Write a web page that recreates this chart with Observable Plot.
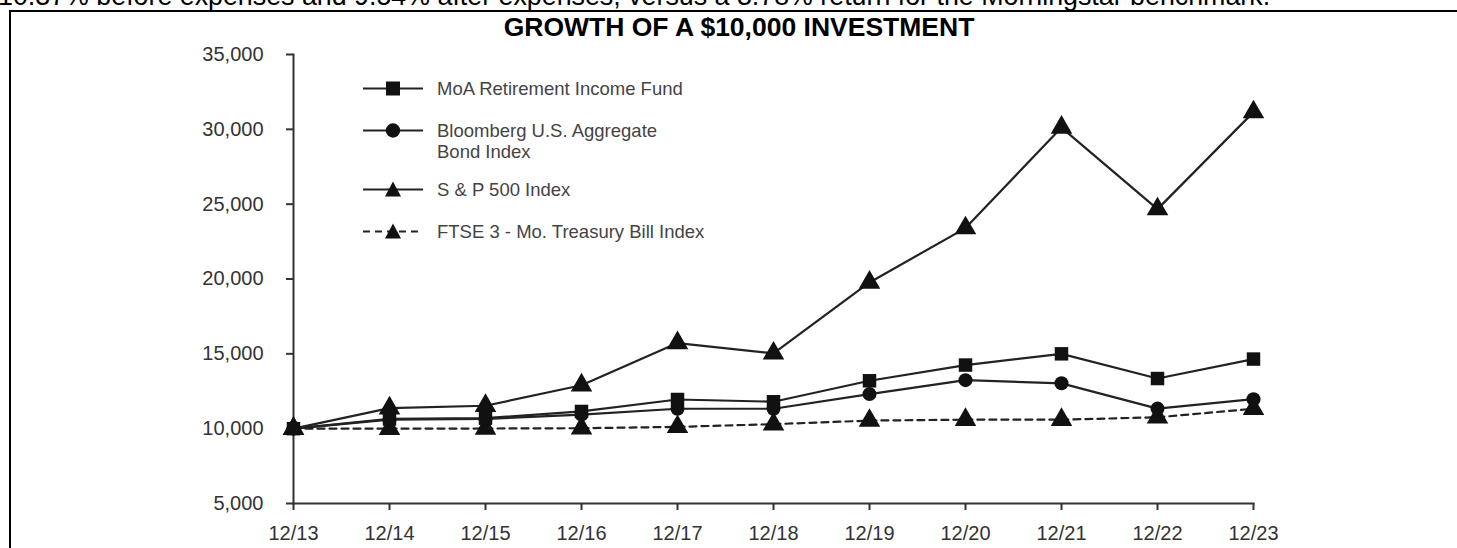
<!DOCTYPE html>
<html>
<head>
<meta charset="utf-8">
<script src="https://cdn.jsdelivr.net/npm/d3@7"></script>
<script src="https://cdn.jsdelivr.net/npm/@observablehq/plot@0.6"></script>
<style>
  html, body { margin: 0; padding: 0; background: #fff; }
  body { width: 1457px; height: 548px; overflow: hidden; position: relative; font-family: "Liberation Sans", Arial, sans-serif; }
  #topline { position: absolute; left: -2px; top: -19px; font-size: 26.8px; line-height: normal; color: #000; white-space: nowrap; }
  #frame { position: absolute; left: 9px; top: 10px; width: 1460px; height: 560px; border-top: 2.5px solid #000; border-left: 2px solid #000; }
  #title { position: absolute; left: 0; width: 1478px; text-align: center; top: 12px; font-size: 26.5px; line-height: normal; font-weight: bold; color: #000; }
  #chart { position: absolute; left: 0; top: 0; }
  #legend { position: absolute; left: 360px; top: 0; font-size: 18.5px; color: #444; }
  .item { position: absolute; left: 0; white-space: nowrap; }
  .item svg { position: absolute; left: 0; top: 0; }
  .item span { position: absolute; left: 77px; line-height: 21px; }
</style>
</head>
<body>
<div id="topline">10.37% before expenses and 9.54% after expenses, versus a 3.78% return for the Morningstar benchmark.</div>
<div id="frame"></div>
<div id="chart"></div>
<div id="title">GROWTH OF A $10,000 INVESTMENT</div>
<div id="legend"></div>
<script>
const years = ["12/13","12/14","12/15","12/16","12/17","12/18","12/19","12/20","12/21","12/22","12/23"];
const moaFund = [10000, 10650, 10700, 11150, 11950, 11800, 13200, 14250, 15000, 13350, 14650];
const aggBond = [10000, 10600, 10650, 10940, 11330, 11330, 12310, 13240, 13030, 11340, 11970];
const sp500   = [10000, 11370, 11530, 12900, 15720, 15030, 19770, 23400, 30120, 24670, 31150];
const tBill   = [10000, 10000, 10010, 10030, 10120, 10300, 10540, 10600, 10600, 10760, 11330];
const seriesNames = ["MoA Retirement Income Fund", "Bloomberg U.S. Aggregate Bond Index", "S & P 500 Index", "FTSE 3 - Mo. Treasury Bill Index"];
const yTicks = [5000, 10000, 15000, 20000, 25000, 30000, 35000];

const seriesValues = [moaFund, aggBond, sp500, tBill];
const seriesSymbols = ["square", "circle", "triangle", "triangle"];
const data = [];
seriesNames.forEach((name, i) => years.forEach((yr, j) => data.push({series: name, year: yr, value: seriesValues[i][j], symbol: seriesSymbols[i]})));

const ink = "#222";
const plot = Plot.plot({
  width: 1457,
  height: 548,
  marginTop: 54,
  marginBottom: 45,
  marginLeft: 293,
  marginRight: 204,
  style: { fontFamily: "'Liberation Sans', Arial, sans-serif", fontSize: "20px", color: "#333", background: "transparent", overflow: "visible" },
  x: { type: "point", domain: years, padding: 0 },
  y: { domain: [5000, 35000] },
  symbol: { domain: ["square", "circle", "triangle"], range: ["square", "circle", "triangle2"] },
  marks: [
    Plot.axisY({ ticks: yTicks, tickSize: 7, tickPadding: 23, tickFormat: d3.format(","), label: null, stroke: "#333", strokeWidth: 2 }),
    Plot.axisX({ tickSize: 7, tickPadding: 15, label: null, stroke: "#333", strokeWidth: 2 }),
    Plot.frame({ anchor: "left", stroke: "#333", strokeWidth: 2 }),
    Plot.frame({ anchor: "bottom", stroke: "#333", strokeWidth: 2 }),
    Plot.line(data.filter(d => d.series === seriesNames[3]), { x: "year", y: "value", stroke: ink, strokeWidth: 2.2, strokeDasharray: "7,5" }),
    Plot.line(data.filter(d => d.series !== seriesNames[3]), { x: "year", y: "value", z: "series", stroke: ink, strokeWidth: 2.2 }),
    Plot.dot(data.filter(d => d.symbol === "triangle"), { x: "year", y: "value", symbol: "symbol", r: 8, fill: "#111", stroke: "none" }),
    Plot.dot(data.filter(d => d.symbol === "circle"), { x: "year", y: "value", symbol: "symbol", r: 7, fill: "#111", stroke: "none" }),
    Plot.dot(data.filter(d => d.symbol === "square"), { x: "year", y: "value", symbol: "symbol", r: 7.6, fill: "#111", stroke: "none" })
  ]
});
document.getElementById("chart").appendChild(plot);

// Legend
const legendRows = [
  { name: "MoA Retirement Income Fund", lines: ["MoA Retirement Income Fund"], sym: "square", dash: false, top: 78 },
  { name: "Bloomberg U.S. Aggregate Bond Index", lines: ["Bloomberg U.S. Aggregate", "Bond Index"], sym: "circle", dash: false, top: 120 },
  { name: "S & P 500 Index", lines: ["S & P 500 Index"], sym: "triangle", dash: false, top: 179 },
  { name: "FTSE 3 - Mo. Treasury Bill Index", lines: ["FTSE 3 - Mo. Treasury Bill Index"], sym: "triangle", dash: true, top: 221 }
];
const legend = document.getElementById("legend");
legendRows.forEach(r => {
  const item = document.createElement("div");
  item.className = "item";
  item.style.top = r.top + "px";
  let shape = "";
  if (r.sym === "square") shape = `<rect x="26" y="3.5" width="14" height="14" fill="#111"/>`;
  else if (r.sym === "circle") shape = `<circle cx="33" cy="10.5" r="7.2" fill="#111"/>`;
  else shape = `<path d="M33,2.5 L41,17.5 L25,17.5 Z" fill="#111"/>`;
  item.innerHTML = `<svg width="70" height="21"><line x1="3" x2="63" y1="10.5" y2="10.5" stroke="#222" stroke-width="2.2" ${r.dash ? 'stroke-dasharray="7,5"' : ''}/>${shape}</svg>` +
    `<span style="top:0">${r.lines.join("<br>")}</span>`;
  legend.appendChild(item);
});
</script>
</body>
</html>
